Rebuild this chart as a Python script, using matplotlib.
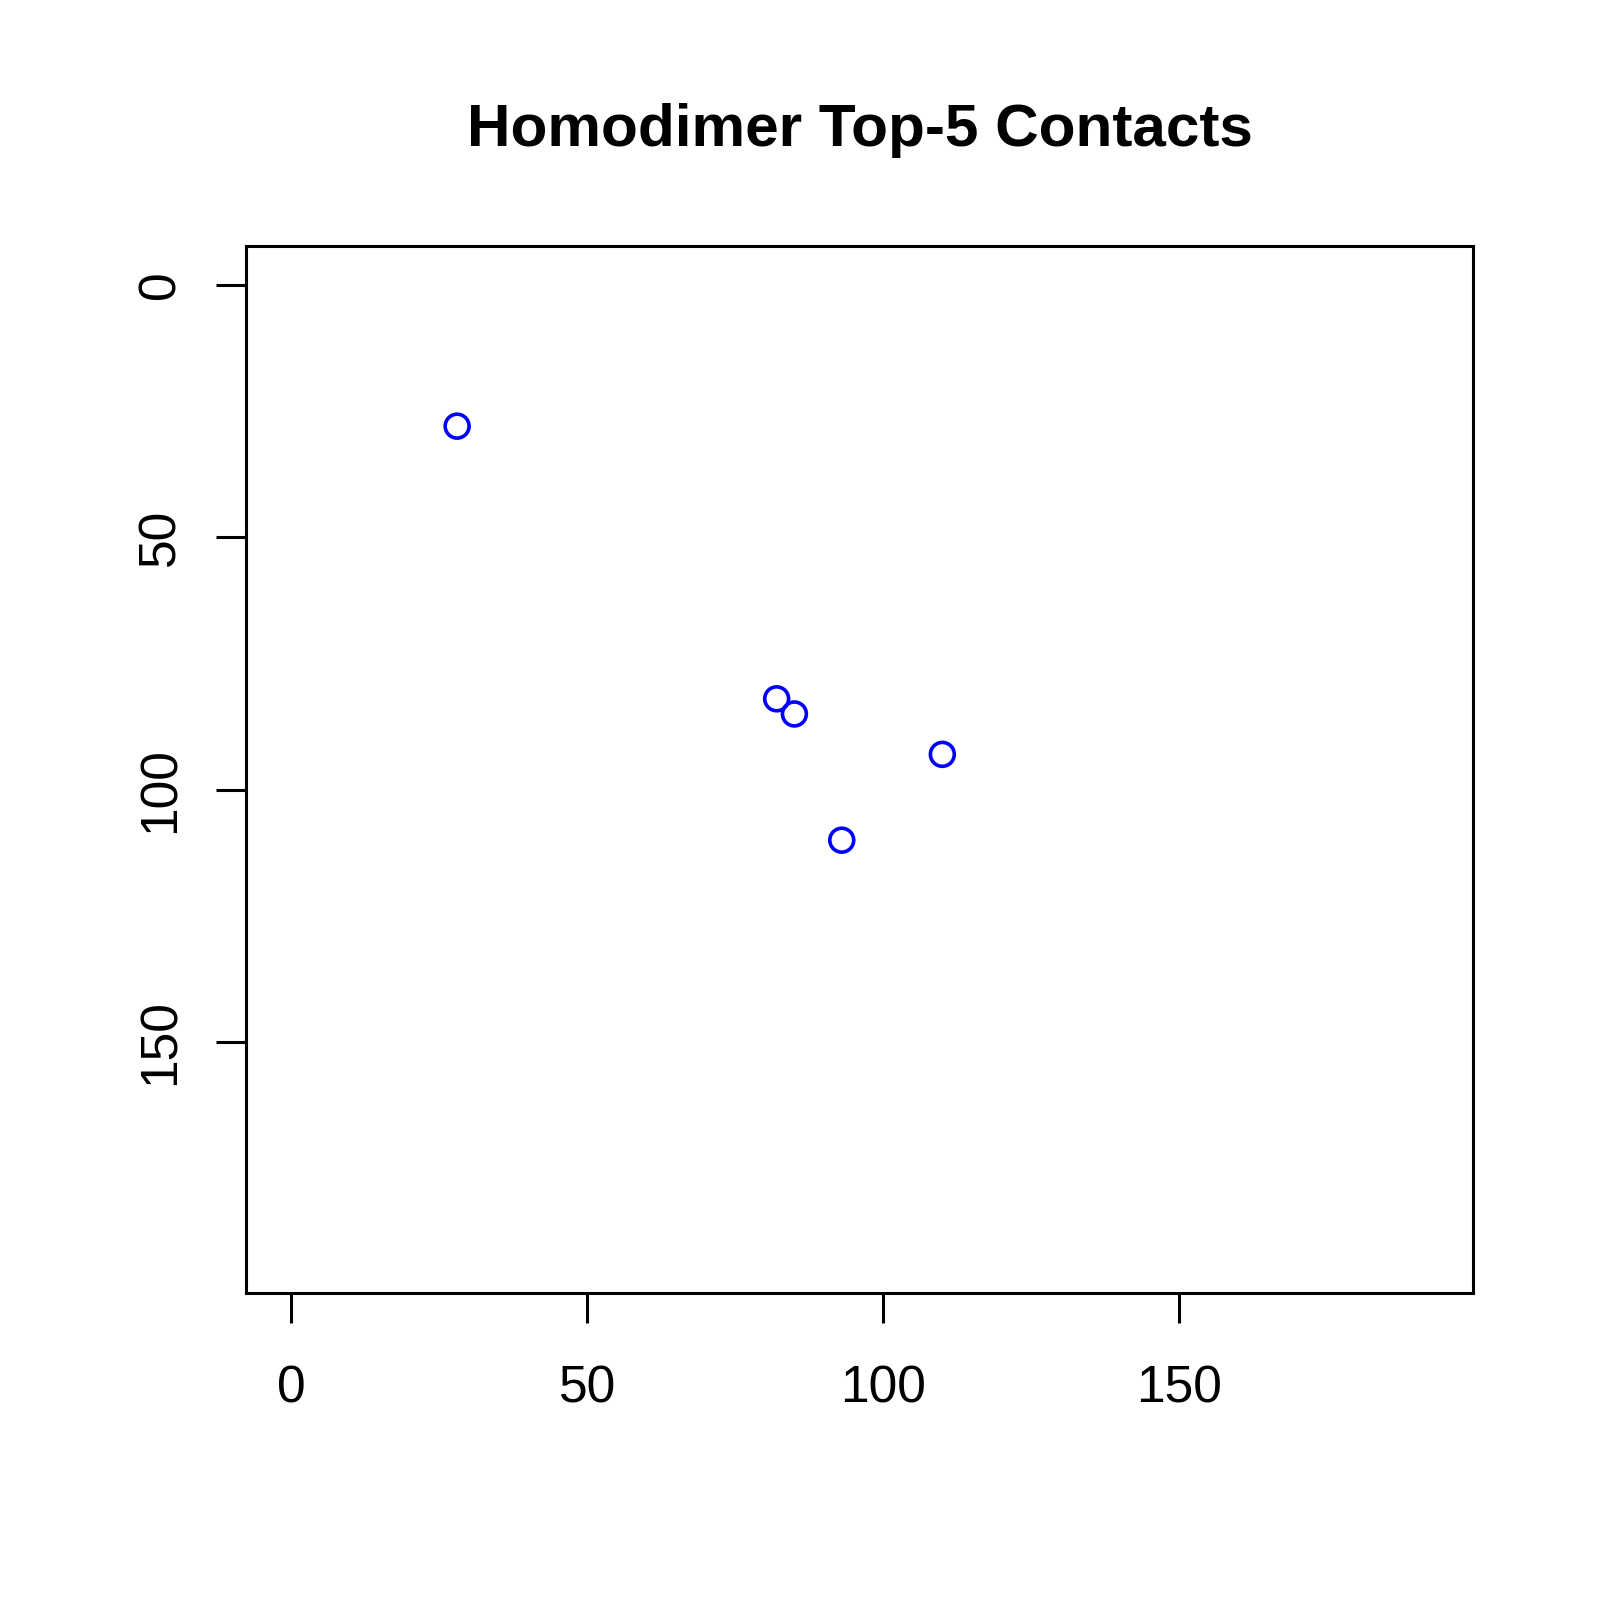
import matplotlib
matplotlib.use("Agg")
import matplotlib.pyplot as plt

plt.rcParams['font.family'] = ['Liberation Sans', 'DejaVu Sans']

# contact positions (residue i, residue j)
res_i = [28, 82, 85, 110, 93]
res_j = [28, 82, 85, 93, 110]
seq_len = 192
ticks = [0, 50, 100, 150]

fig = plt.figure(figsize=(8, 8), dpi=200)
ax = fig.add_axes([246/1600, 1 - 1293/1600, (1473-246)/1600, (1293-246)/1600])

ax.scatter(res_i, res_j, s=8.6**2, facecolors='none', edgecolors='blue', linewidths=1.3)

pad = 0.04 * seq_len
ax.set_xlim(-pad, seq_len + pad)
ax.set_ylim(seq_len + pad, -pad)
ax.set_xticks(ticks)
ax.set_yticks(ticks)
ax.set_xticklabels([str(t) for t in ticks])
ax.set_yticklabels([str(t) for t in ticks], rotation=90, va='center')

for s in ax.spines.values():
    s.set_linewidth(1.1)
ax.tick_params(direction='out', length=10.8, width=1.1, labelsize=18.6)
ax.tick_params(axis='x', pad=15)
ax.tick_params(axis='y', pad=11)

ax.set_title("Homodimer Top-5 Contacts", fontsize=21.7, fontweight='bold', pad=36)

fig.savefig("out.png", dpi=200)
